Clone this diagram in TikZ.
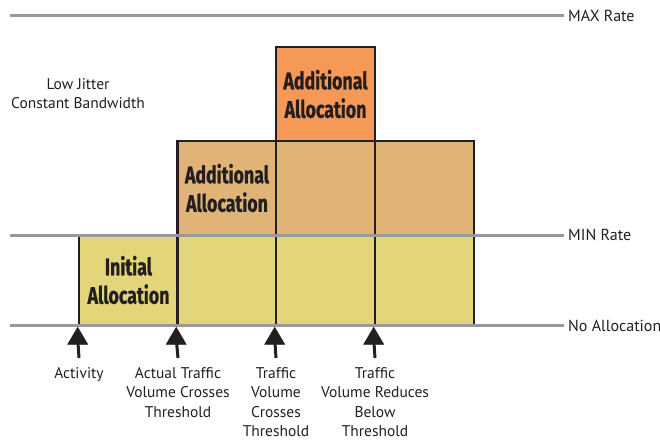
\documentclass[tikz,border=0pt]{standalone}
\usepackage{fontspec}
\setmainfont{PT Sans}
\newfontfamily\boldc[FakeStretch=0.74,FakeBold=0.8]{Fira Sans}
\definecolor{ink}{HTML}{231F20}
\definecolor{gline}{HTML}{999999}
\definecolor{yel}{HTML}{E3D57A}
\definecolor{tan}{HTML}{E0B476}
\definecolor{org}{HTML}{F69856}
\tikzset{
  cell/.style={draw=ink, line width=2.6pt, inner sep=0pt, minimum width=99pt, text=ink,
     font=\boldc\bfseries\fontsize{24}{28.5}\selectfont, align=center},
  grayline/.style={draw=gline, line width=3pt},
  ratelbl/.style={anchor=west, inner sep=4pt, text=ink, font=\fontsize{16}{19.5}\selectfont},
  lbl/.style={anchor=north, inner sep=0pt, text=ink, align=center, font=\fontsize{15.5}{19.5}\selectfont},
  shaft/.style={draw=ink, line width=3pt},
  tiphead/.style={fill=ink, draw=ink, line width=0.5pt, line join=miter}
}
\begin{document}
\begin{tikzpicture}[x=1pt,y=-1pt]
\useasboundingbox (0,0) rectangle (660,444);
% yellow row
\node[cell, fill=yel, minimum height=90pt] (init) at (128.5,280) {Initial\\Allocation};
\node[cell, fill=yel, minimum height=90pt] (y2) at (227,280) {};
\node[cell, fill=yel, minimum height=90pt] (y3) at (325.5,280) {};
\node[cell, fill=yel, minimum height=90pt] (y4) at (424.5,280) {};
% tan row
\node[cell, fill=tan, minimum height=94pt] (add1) at (227,188) {Additional\\Allocation};
\node[cell, fill=tan, minimum height=94pt] (t2) at (325.5,188) {};
\node[cell, fill=tan, minimum height=94pt] (t3) at (424.5,188) {};
% orange
\node[cell, fill=org, minimum height=94pt] (add2) at (325.5,94) {Additional\\Allocation};
% rate lines
\node[ratelbl] (maxl) at (564,16) {MAX Rate};
\node[ratelbl] (minl) at (564,235) {MIN Rate};
\node[ratelbl] (nol) at (564,326) {No Allocation};
\coordinate (maxs) at (10,16);
\coordinate (mins) at (10,235);
\coordinate (nos) at (10,325);
\draw[grayline] (maxs) -- (maxl.west);
\draw[grayline] (mins) -- (mins -| minl.west);
\draw[grayline] (nos) -- (nos -| nol.west);
% side label
\node[lbl] (jit) at (78,78) {Low Jitter\\Constant Bandwidth};
% arrows
\coordinate (a1) at (79,358);
\coordinate (a2) at (178,358);
\coordinate (a3) at (276,358);
\coordinate (a4) at (375,358);
\foreach \s/\n in {a1/init, a2/y2, a3/y3, a4/y4}{
  \draw[shaft] (\s) -- ([yshift=-12pt]\n.south west);
  \filldraw[tiphead] ([yshift=-1pt]\n.south west) -- ++(-10,17) -- ++(20,0) -- cycle;
}
\node[lbl] (l1) at (79,367) {Activity};
\node[lbl] (l2) at (178,367) {Actual Traffic\\Volume Crosses\\Threshold};
\node[lbl] (l3) at (276,367) {Traffic\\Volume\\Crosses\\Threshold};
\node[lbl] (l4) at (375,367) {Traffic\\Volume Reduces\\Below\\Threshold};
\end{tikzpicture}
\end{document}
